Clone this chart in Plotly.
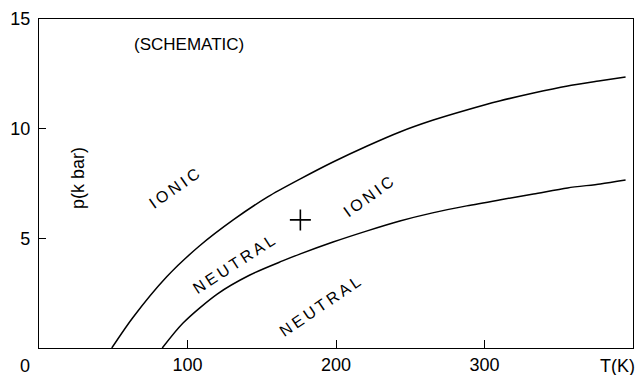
import plotly.graph_objects as go

# Phase boundaries (T in K, p in kbar)
upper_T = [49, 63, 86, 108, 131, 154, 176, 198, 221, 243, 265, 288, 310, 333, 356, 378, 395]
upper_p = [0, 1.37, 3.25, 4.65, 5.85, 6.89, 7.71, 8.48, 9.21, 9.85, 10.38, 10.85, 11.26, 11.63, 11.95, 12.18, 12.36]
lower_T = [83, 97, 120, 142, 164, 176, 198, 221, 243, 265, 288, 310, 333, 356, 378, 395]
lower_p = [0, 1.14, 2.46, 3.33, 3.97, 4.29, 4.83, 5.34, 5.79, 6.16, 6.48, 6.75, 7.02, 7.30, 7.48, 7.66]

# Marked point
point_T = [176]
point_p = [5.84]

# Region labels
label_text = ["IONIC", "NEUTRAL", "IONIC", "NEUTRAL"]
label_T = [91, 131, 222, 189]
label_p = [7.25, 3.8, 6.9, 1.9]
label_angle = [-35, -33, -36, -34]

x_ticks = [100, 200, 300]
y_ticks = [5, 10, 15]

FONT = "Liberation Sans, Arial, sans-serif"
TS = "\u2009"

fig = go.Figure()
for xs, ys in ((upper_T, upper_p), (lower_T, lower_p)):
    fig.add_trace(go.Scatter(x=xs, y=ys, mode="lines",
                             line=dict(color="black", width=1.5, shape="spline", smoothing=0.8),
                             hoverinfo="skip", showlegend=False, cliponaxis=True))
fig.add_trace(go.Scatter(x=point_T, y=point_p, mode="markers",
                         marker=dict(symbol="cross-thin", size=15, line=dict(color="black", width=1.6)),
                         hoverinfo="skip", showlegend=False))

for t, x, y, a in zip(label_text, label_T, label_p, label_angle):
    fig.add_annotation(x=x, y=y, xref="x", yref="y", text=TS.join(t), textangle=a, showarrow=False,
                       xanchor="center", yanchor="middle",
                       font=dict(family=FONT, size=16, color="black"))

fig.add_annotation(x=101, y=13.86, xref="x", yref="y", text="(SCHEMATIC)", showarrow=False,
                   xanchor="center", yanchor="middle", font=dict(family=FONT, size=17, color="black"))
fig.add_annotation(x=(78 - 39) / 594, y=(348 - 178) / 329, xref="paper", yref="paper", text="p(k bar)",
                   textangle=-90, showarrow=False, xanchor="center", yanchor="middle",
                   font=dict(family=FONT, size=18, color="black"))
fig.add_annotation(x=(25 - 39) / 594, y=(348 - 366) / 329, xref="paper", yref="paper", text="0",
                   showarrow=False, xanchor="center", yanchor="middle",
                   font=dict(family=FONT, size=18, color="black"))
fig.add_annotation(x=(617 - 39) / 594, y=(348 - 366) / 329, xref="paper", yref="paper", text="T(K)",
                   showarrow=False, xanchor="center", yanchor="middle",
                   font=dict(family=FONT, size=18, color="black"))

axis_common = dict(showline=True, linecolor="black", linewidth=1.3, mirror=True, showgrid=False,
                   zeroline=False, ticks="inside", tickcolor="black", tickwidth=1.2, automargin=False,
                   tickfont=dict(family=FONT, size=18, color="black"))
fig.update_xaxes(range=[0, 400], tickvals=x_ticks, ticktext=[str(v) for v in x_ticks], ticklen=8, **axis_common)
fig.update_yaxes(range=[0, 15], tickvals=y_ticks, ticktext=[str(v) for v in y_ticks], ticklen=7,
                 ticklabelstandoff=4, **axis_common)

fig.update_layout(width=635, height=375, margin=dict(l=39, r=2, t=19, b=27),
                  paper_bgcolor="white", plot_bgcolor="white", showlegend=False)

fig.write_html("out.html", config={"displayModeBar": False},
               post_script="document.body.style.margin='0px';document.body.style.overflow='hidden';")
